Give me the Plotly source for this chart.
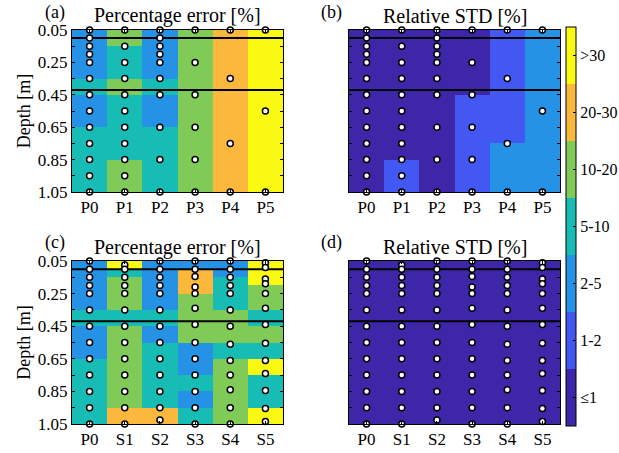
import plotly.graph_objects as go

# ---------------- data ----------------
level_labels = ["≤1", "1-2", "2-5", "5-10", "10-20", "20-30", ">30"]
level_colors = ["#3e26a8", "#4358f2", "#2592e6", "#17bdb5", "#80cb58", "#fbb83c", "#f9f914"]

depth_edges = [0.05, 0.10, 0.15, 0.20, 0.25, 0.35, 0.45, 0.55, 0.65, 0.75, 0.85, 0.95, 1.05]
depth_ticks = [0.05, 0.15, 0.25, 0.35, 0.45, 0.55, 0.65, 0.75, 0.85, 0.95, 1.05]
depth_ticklabels = ["0.05", "", "0.25", "", "0.45", "", "0.65", "", "0.85", "", "1.05"]
layer_boundaries = [0.10, 0.42]

sites_top = ["P0", "P1", "P2", "P3", "P4", "P5"]
sites_bottom = ["P0", "S1", "S2", "S3", "S4", "S5"]

# error class (index into level_labels) per depth interval, one list per site
pe_top = [
    [2, 2, 2, 2, 2, 3, 2, 2, 3, 3, 3, 3],
    [4, 4, 3, 3, 3, 4, 3, 3, 3, 3, 4, 4],
    [2, 2, 2, 2, 2, 3, 2, 2, 3, 3, 3, 3],
    [4, 4, 4, 4, 4, 4, 4, 4, 4, 4, 4, 4],
    [5, 5, 5, 5, 5, 5, 5, 5, 5, 5, 5, 5],
    [6, 6, 6, 6, 6, 6, 6, 6, 6, 6, 6, 6],
]
std_top = [
    [0, 0, 0, 0, 0, 0, 0, 0, 0, 0, 0, 0],
    [0, 0, 0, 0, 0, 0, 0, 0, 0, 0, 1, 1],
    [0, 0, 0, 0, 0, 0, 0, 0, 0, 0, 0, 0],
    [0, 0, 0, 0, 0, 0, 1, 1, 1, 1, 1, 1],
    [1, 1, 1, 1, 1, 1, 1, 1, 1, 2, 2, 2],
    [2, 2, 2, 2, 2, 2, 2, 2, 2, 2, 2, 2],
]
pe_bottom = [
    [2, 2, 2, 2, 2, 3, 2, 2, 3, 3, 3, 3],
    [6, 3, 4, 4, 4, 3, 4, 4, 4, 4, 4, 5],
    [2, 2, 2, 2, 2, 3, 2, 3, 3, 3, 3, 5],
    [2, 5, 5, 5, 4, 4, 4, 2, 2, 3, 2, 3],
    [2, 2, 3, 3, 3, 4, 4, 3, 4, 4, 4, 4],
    [6, 6, 6, 4, 4, 3, 4, 3, 6, 3, 3, 6],
]
std_bottom = [
    [0] * 12, [0] * 12, [0] * 12, [0] * 12, [0] * 12, [0] * 12,
]

# measurement depths per site
points_top = [
    [0.05, 0.10, 0.15, 0.20, 0.25, 0.35, 0.45, 0.55, 0.65, 0.75, 0.85, 0.95, 1.05],
    [0.05, 0.15, 0.25, 0.35, 0.45, 0.55, 0.65, 0.75, 0.85, 0.95, 1.05],
    [0.05, 0.10, 0.15, 0.20, 0.25, 0.35, 0.45, 0.65, 0.85, 1.05],
    [0.05, 0.25, 0.45, 0.65, 0.85, 1.05],
    [0.05, 0.35, 0.75, 1.05],
    [0.05, 0.55, 1.05],
]
points_bottom = [
    [0.05, 0.10, 0.15, 0.20, 0.25, 0.35, 0.45, 0.55, 0.65, 0.75, 0.85, 0.95, 1.05],
    [0.075, 0.10, 0.15, 0.20, 0.25, 0.35, 0.45, 0.55, 0.65, 0.75, 0.85, 0.95, 1.05],
    [0.05, 0.10, 0.15, 0.20, 0.25, 0.35, 0.45, 0.55, 0.65, 0.75, 0.85, 0.95, 1.025],
    [0.05, 0.10, 0.145, 0.21, 0.25, 0.34, 0.44, 0.55, 0.65, 0.75, 0.85, 0.95, 1.05],
    [0.05, 0.10, 0.15, 0.20, 0.25, 0.35, 0.45, 0.56, 0.66, 0.75, 0.84, 0.95, 1.05],
    [0.06, 0.09, 0.16, 0.19, 0.25, 0.34, 0.44, 0.555, 0.66, 0.74, 0.845, 0.955, 1.035],
]

titles = ["Percentage error [%]", "Relative STD [%]", "Percentage error [%]", "Relative STD [%]"]
panel_tags = ["(a)", "(b)", "(c)", "(d)"]

# ---------------- layout helpers ----------------
W, H = 619, 453
FONT = "Liberation Serif"

def px_x(v):
    return v / W

def px_y(v):
    return 1 - v / H

panels = [
    dict(classes=pe_top, points=points_top, sites=sites_top, x0=72, x1=283, y0=30, y1=192, ylab=True),
    dict(classes=std_top, points=points_top, sites=sites_top, x0=349, x1=560, y0=30, y1=192, ylab=False),
    dict(classes=pe_bottom, points=points_bottom, sites=sites_bottom, x0=72, x1=283, y0=261, y1=424, ylab=True),
    dict(classes=std_bottom, points=points_bottom, sites=sites_bottom, x0=349, x1=560, y0=261, y1=424, ylab=False),
]

nlev = len(level_colors)
colorscale = []
for i, c in enumerate(level_colors):
    colorscale.append([i / nlev, c])
    colorscale.append([(i + 1) / nlev, c])

x_edges = [i - 0.5 for i in range(len(sites_top) + 1)]

fig = go.Figure()
annotations = []

for k, p in enumerate(panels):
    n = k + 1
    xa = "x" if n == 1 else f"x{n}"
    ya = "y" if n == 1 else f"y{n}"
    z = [[p["classes"][c][r] for c in range(len(p["sites"]))] for r in range(len(depth_edges) - 1)]
    hm = dict(
        z=z, x=x_edges, y=depth_edges, zmin=-0.5, zmax=nlev - 0.5,
        colorscale=colorscale, xaxis=xa, yaxis=ya, showscale=(k == 0), hoverinfo="skip",
    )
    if k == 0:
        hm["colorbar"] = dict(
            x=px_x(566), xanchor="left", thickness=10, thicknessmode="pixels",
            len=(426 - 27) / H, lenmode="fraction", y=px_y(27), yanchor="top",
            outlinecolor="black", outlinewidth=1, xpad=0, ypad=0,
            tickvals=list(range(nlev)), ticktext=level_labels,
            ticks="inside", ticklen=3, tickcolor="black",
            tickfont=dict(family=FONT, size=16, color="black"),
        )
    fig.add_trace(go.Heatmap(**hm))
    for d in layer_boundaries:
        fig.add_trace(go.Scatter(
            x=[x_edges[0], x_edges[-1]], y=[d, d], mode="lines",
            line=dict(color="black", width=2), xaxis=xa, yaxis=ya,
            showlegend=False, hoverinfo="skip",
        ))
    px_, py_ = [], []
    for c, depths in enumerate(p["points"]):
        for d in depths:
            px_.append(c)
            py_.append(d)
    fig.add_trace(go.Scatter(
        x=px_, y=py_, mode="markers", cliponaxis=False,
        marker=dict(size=6, color="white", line=dict(color="black", width=1.5)),
        xaxis=xa, yaxis=ya, showlegend=False, hoverinfo="skip",
    ))

    axis_common = dict(
        showline=True, linecolor="black", linewidth=1, mirror="ticks",
        ticks="inside", tickcolor="black", showgrid=False, zeroline=False,
        automargin=False,
        tickfont=dict(family=FONT, size=17, color="black"),
    )
    xkey = "xaxis" if n == 1 else f"xaxis{n}"
    ykey = "yaxis" if n == 1 else f"yaxis{n}"
    fig.layout[xkey] = dict(
        domain=[px_x(p["x0"]), px_x(p["x1"])], anchor=ya,
        range=[x_edges[0], x_edges[-1]], tickvals=list(range(len(p["sites"]))),
        ticktext=p["sites"], ticklen=3, **axis_common,
    )
    ydict = dict(
        domain=[px_y(p["y1"]), px_y(p["y0"])], anchor=xa,
        range=[depth_edges[-1], depth_edges[0]], tickvals=depth_ticks,
        ticktext=depth_ticklabels if p["ylab"] else [""] * len(depth_ticks),
        ticklen=3, **axis_common,
    )
    if p["ylab"]:
        ydict["title"] = dict(text="Depth [m]", font=dict(family=FONT, size=18, color="black"), standoff=2)
    fig.layout[ykey] = ydict

    annotations.append(dict(
        text=titles[k], x=px_x((p["x0"] + p["x1"]) / 2), y=px_y(p["y0"] - 14),
        xref="paper", yref="paper", xanchor="center", yanchor="middle", showarrow=False,
        font=dict(family=FONT, size=20, color="black"),
    ))
    annotations.append(dict(
        text=panel_tags[k], x=px_x(p["x0"] - 5), y=px_y(p["y0"] - 18),
        xref="paper", yref="paper", xanchor="right", yanchor="middle", showarrow=False,
        font=dict(family=FONT, size=18, color="black"),
    ))

fig.update_layout(
    width=W, height=H, margin=dict(l=0, r=0, t=0, b=0, autoexpand=False),
    paper_bgcolor="white", plot_bgcolor="white", showlegend=False,
    annotations=annotations, font=dict(family=FONT, color="black"),
)

fig.write_html(
    "out.html",
    config={"displayModeBar": False},
    post_script="document.body.style.margin='0px';",
)
